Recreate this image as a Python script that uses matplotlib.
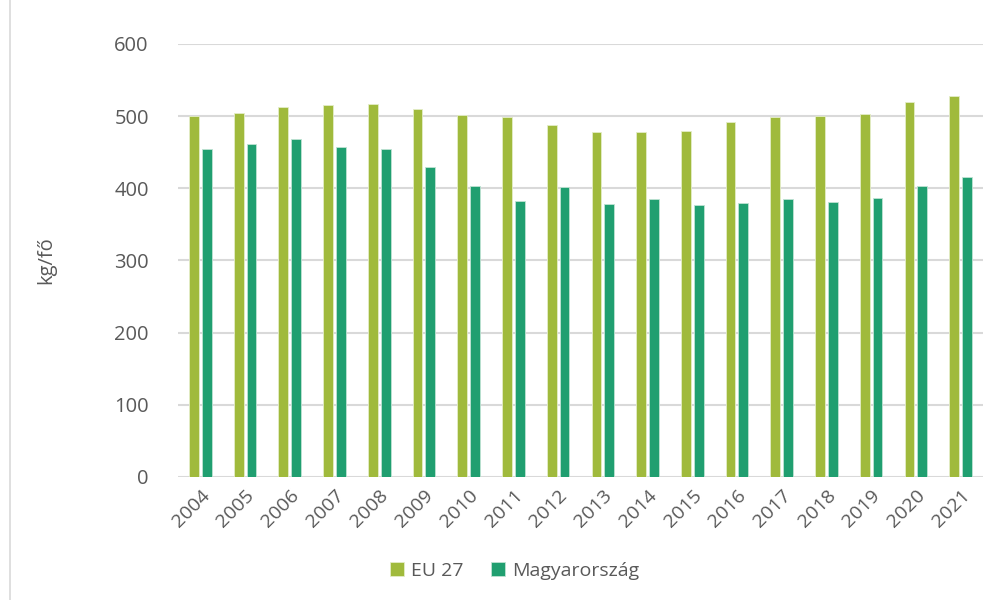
import matplotlib
matplotlib.use("Agg")
import matplotlib.pyplot as plt
import numpy as np

years = [str(y) for y in range(2004, 2022)]
eu27 = [500, 505, 512, 516, 517, 510, 502, 499, 488, 478, 478, 480, 492, 499, 500, 503, 520, 528]
hungary = [454, 461, 468, 457, 454, 430, 403, 382, 402, 378, 385, 377, 380, 385, 381, 386, 403, 416]
series_names = ["EU 27", "Magyarország"]
colors = ["#A0BA3C", "#209F70"]
yticks = [0, 100, 200, 300, 400, 500, 600]

plt.rcParams['font.family'] = ['Open Sans', 'DejaVu Sans']

fig = plt.figure(figsize=(10.03, 6.0), dpi=100)
fig.patch.set_facecolor("white")
# outer frame
fig.add_artist(plt.Rectangle((0.01, -0.01), 1.0, 1.02, transform=fig.transFigure,
                             fill=False, edgecolor="#D9D9D9", linewidth=1.2))

ax = fig.add_axes([0.1775, 0.205, 0.8025, 0.7217])
x = np.arange(len(years))
w = 0.22
gap = 0.067
ax.bar(x - (w + gap) / 2, eu27, width=w, color=colors[0], edgecolor="#E4EDC8",
       linewidth=0.6, label=series_names[0], zorder=3)
ax.bar(x + (w + gap) / 2, hungary, width=w, color=colors[1], edgecolor="#BFE3D3",
       linewidth=0.6, label=series_names[1], zorder=3)

ax.set_xlim(-0.5, len(years) - 0.5)
ax.set_ylim(0, 600)
ax.set_yticks(yticks)
ax.set_yticklabels([str(v) for v in yticks], fontsize=14.5, color="#595959")
ax.set_xticks(x)
ax.set_xticklabels(years, rotation=45, ha="right", rotation_mode="anchor",
                   fontsize=14, color="#595959")
ax.tick_params(axis="both", length=0)
ax.tick_params(axis="y", pad=21)
ax.tick_params(axis="x", pad=7)
ax.grid(axis="y", color="#D9D9D9", linewidth=1.5, zorder=0)
for s in ax.spines.values():
    s.set_visible(False)
ax.set_ylabel("kg/fő", fontsize=14.5, color="#595959", labelpad=42)

ax.legend(loc="center", ncol=2, frameon=False, fontsize=14, handlelength=0.75,
          handleheight=0.75, handletextpad=0.35, columnspacing=1.4,
          labelcolor="#595959",
          bbox_to_anchor=(514.5 / 1003, 1 - 571 / 600), bbox_transform=fig.transFigure)

fig.savefig("out.png", dpi=100)
